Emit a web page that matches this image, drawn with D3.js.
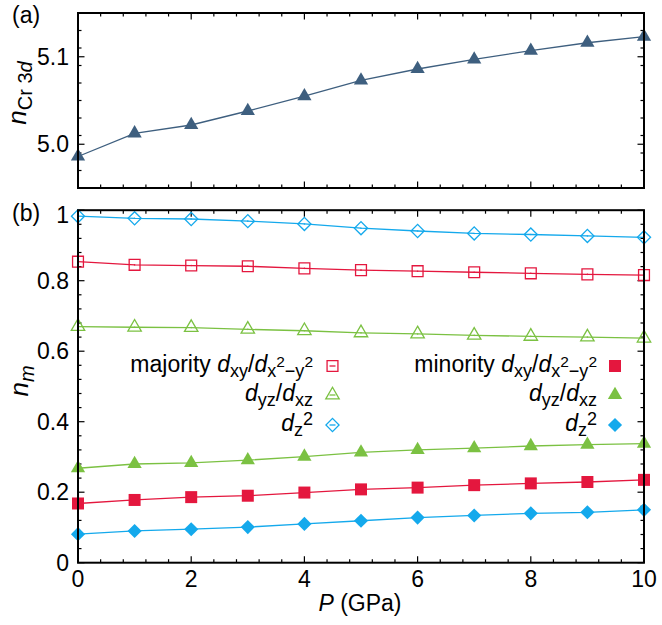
<!DOCTYPE html>
<html>
<head>
<meta charset="utf-8">
<script src="https://cdn.jsdelivr.net/npm/d3@7"></script>
<style>
  body { margin: 0; background: #fff; }
  text { font-family: "Liberation Sans", Arial, sans-serif; fill: #000; }
</style>
</head>
<body>
<div id="graph"></div>
<script>
// pressure points (GPa)
const pressure = [0, 1, 2, 3, 4, 5, 6, 7, 8, 9, 10];

// (a) total Cr 3d occupation
const nCr3d = [4.986, 5.0125, 5.022, 5.038, 5.055, 5.073, 5.086, 5.097, 5.107, 5.116, 5.123];

// (b) orbital occupations
const majXY = [0.854, 0.845, 0.843, 0.841, 0.835, 0.830, 0.827, 0.824, 0.821, 0.818, 0.816];
const majYZ = [0.670, 0.668, 0.667, 0.662, 0.658, 0.652, 0.649, 0.645, 0.642, 0.640, 0.637];
const majZ2 = [0.983, 0.977, 0.975, 0.969, 0.961, 0.949, 0.941, 0.934, 0.931, 0.927, 0.923];
const minXY = [0.168, 0.178, 0.186, 0.190, 0.199, 0.208, 0.213, 0.220, 0.225, 0.229, 0.235];
const minYZ = [0.268, 0.280, 0.283, 0.291, 0.301, 0.313, 0.320, 0.325, 0.331, 0.335, 0.338];
const minZ2 = [0.081, 0.090, 0.095, 0.101, 0.110, 0.119, 0.128, 0.134, 0.140, 0.143, 0.150];

// tick values
const xTicks = [0, 2, 4, 6, 8, 10];
const yTicksA = [5.0, 5.1];
const yTicksB = [0, 0.2, 0.4, 0.6, 0.8, 1];

const W = 662, H = 625;
const left = 78, right = 644;
const FS = 23;
const slate = "#3e5f7f", red = "#e4173e", green = "#7bc142", cyan = "#14a9ec";

const svg = d3.select("#graph").append("svg")
  .attr("width", W).attr("height", H);

const x = d3.scaleLinear().domain([0, 10]).range([left, right]);
const yA = d3.scaleLinear().domain([4.95, 5.15]).range([188, 13]);
const yB = d3.scaleLinear().domain([0, 1]).range([562.7, 210.2]);

// marker generators
const tri = d3.symbol().type(d3.symbolTriangle);
const sq = d3.symbol().type(d3.symbolSquare);

function marker(g, shape, color, filled, cx, cy, legend) {
  let d;
  if (shape === "tri") d = tri.size(filled ? 88 : 78)();
  else if (shape === "sq") d = sq.size(filled ? 144 : 118)();
  else d = sq.size(filled ? 100 : 86)();
  const rot = shape === "dia" ? " rotate(45)" : "";
  const p = g.append("path").attr("d", d).attr("transform", `translate(${cx},${cy})${rot}`);
  if (filled) p.attr("fill", color).attr("stroke", "none");
  else p.attr("fill", "none").attr("stroke", color).attr("stroke-width", 1.3);
  if (!filled) {
    if (legend) {
      g.append("line").attr("x1", cx - 3).attr("x2", cx + 3).attr("y1", cy).attr("y2", cy)
        .attr("stroke", color).attr("stroke-width", 1.3);
    } else {
      g.append("circle").attr("cx", cx).attr("cy", cy).attr("r", 0.8).attr("fill", color);
    }
  }
}

function series(y, values, shape, color, filled) {
  const g = svg.append("g");
  const line = d3.line().x((d, i) => x(pressure[i])).y(d => y(d));
  g.append("path").datum(values).attr("d", line)
    .attr("fill", "none").attr("stroke", color).attr("stroke-width", 1.3);
  values.forEach((v, i) => marker(g, shape, color, filled, x(pressure[i]), y(v)));
}

// rich text helper: segments with italic flag, size and baseline offset
function rich(sel, segs) {
  let prev = 0;
  segs.forEach(s => {
    const off = s.off || 0;
    sel.append("tspan")
      .attr("dy", off - prev)
      .attr("font-style", s.it ? "italic" : "normal")
      .attr("font-size", s.size || FS)
      .text(s.t);
    prev = off;
  });
}

function panelAxes(y, top, bottom, yMajor, yMinorStep, fmt, xLabels) {
  const yMinor = d3.range(y.domain()[0], y.domain()[1] + 1e-9, yMinorStep)
    .filter(v => !yMajor.some(m => Math.abs(m - v) < 1e-6));
  const xMinor = d3.range(0, 10.0001, 0.4).filter(v => !xTicks.some(m => Math.abs(m - v) < 1e-6));

  const g = svg.append("g").attr("stroke", "#000").attr("stroke-width", 1.2);
  xMinor.forEach(v => {
    g.append("line").attr("x1", x(v)).attr("x2", x(v)).attr("y1", bottom).attr("y2", bottom - 3.5);
    g.append("line").attr("x1", x(v)).attr("x2", x(v)).attr("y1", top).attr("y2", top + 3.5);
  });
  xTicks.forEach(v => {
    g.append("line").attr("x1", x(v)).attr("x2", x(v)).attr("y1", bottom).attr("y2", bottom - 6.5);
    g.append("line").attr("x1", x(v)).attr("x2", x(v)).attr("y1", top).attr("y2", top + 6.5);
  });
  yMinor.forEach(v => {
    g.append("line").attr("x1", left).attr("x2", left + 3.5).attr("y1", y(v)).attr("y2", y(v));
    g.append("line").attr("x1", right).attr("x2", right - 3.5).attr("y1", y(v)).attr("y2", y(v));
  });
  yMajor.forEach(v => {
    g.append("line").attr("x1", left).attr("x2", left + 6.5).attr("y1", y(v)).attr("y2", y(v));
    g.append("line").attr("x1", right).attr("x2", right - 6.5).attr("y1", y(v)).attr("y2", y(v));
  });

  const lab = svg.append("g").attr("font-size", FS);
  yMajor.forEach(v => {
    lab.append("text").attr("x", 69).attr("y", y(v) + 8 + (v === 1 ? 5 : 0))
      .attr("text-anchor", "end").text(fmt(v));
  });
  if (xLabels) {
    xTicks.forEach(v => {
      lab.append("text").attr("x", x(v)).attr("y", 587).attr("text-anchor", "middle").text(v);
    });
  }
}

function frame(top, bottom) {
  svg.append("rect").attr("x", left).attr("y", top)
    .attr("width", right - left).attr("height", bottom - top)
    .attr("fill", "none").attr("stroke", "#000").attr("stroke-width", 2);
}

// ---- panel (a)
panelAxes(yA, 13, 188, yTicksA, 0.02, d3.format(".1f"), false);
series(yA, nCr3d, "tri", slate, true);
frame(13, 188);

// ---- panel (b)
panelAxes(yB, 210.2, 562.7, yTicksB, 0.04, v => (v === 0 || v === 1) ? String(v) : d3.format(".1f")(v), true);
series(yB, majZ2, "dia", cyan, false);
series(yB, majXY, "sq", red, false);
series(yB, majYZ, "tri", green, false);
series(yB, minYZ, "tri", green, true);
series(yB, minXY, "sq", red, true);
series(yB, minZ2, "dia", cyan, true);
frame(210.2, 562.7);

// ---- legend
const legendRows = [371.5, 401, 430.5];
const SUB = 18, SUP = 15.5;
const dxy = [{t: "d", it: true}, {t: "xy", size: SUB, off: 5}, {t: "/"}, {t: "d", it: true},
  {t: "x", size: SUB, off: 5}, {t: "2", size: SUP, off: -5}, {t: "\u2212y", size: SUB, off: 5}, {t: "2", size: SUP, off: -5}];
const dyz = [{t: "d", it: true}, {t: "yz", size: SUB, off: 5}, {t: "/"}, {t: "d", it: true}, {t: "xz", size: SUB, off: 5}];
const dz2 = [{t: "d", it: true}, {t: "z", size: SUB, off: 5}, {t: "2", size: SUB, off: -6}];

const leg = svg.append("g");
rich(leg.append("text").attr("x", 313).attr("y", legendRows[0]).attr("text-anchor", "end"),
  [{t: "majority "}].concat(dxy));
rich(leg.append("text").attr("x", 313).attr("y", legendRows[1]).attr("text-anchor", "end"), dyz);
rich(leg.append("text").attr("x", 313).attr("y", legendRows[2]).attr("text-anchor", "end"), dz2);
rich(leg.append("text").attr("x", 597).attr("y", legendRows[0]).attr("text-anchor", "end"),
  [{t: "minority "}].concat(dxy));
rich(leg.append("text").attr("x", 597).attr("y", legendRows[1]).attr("text-anchor", "end"), dyz);
rich(leg.append("text").attr("x", 597).attr("y", legendRows[2]).attr("text-anchor", "end"), dz2);

marker(leg, "sq", red, false, 332.5, 366, true);
marker(leg, "tri", green, false, 332.5, 395, true);
marker(leg, "dia", cyan, false, 332.5, 425, true);
marker(leg, "sq", red, true, 615, 366);
marker(leg, "tri", green, true, 615, 395);
marker(leg, "dia", cyan, true, 615, 425);

// ---- labels
svg.append("text").attr("x", 12).attr("y", 23).attr("font-size", FS).text("(a)");
svg.append("text").attr("x", 12).attr("y", 221).attr("font-size", FS).text("(b)");

rich(svg.append("text").attr("transform", "translate(26,93) rotate(-90)").attr("text-anchor", "middle"),
  [{t: "n", it: true, size: 26}, {t: "Cr 3", size: 20, off: 6}, {t: "d", it: true, size: 20, off: 6}]);
rich(svg.append("text").attr("transform", "translate(28,381) rotate(-90)").attr("text-anchor", "middle"),
  [{t: "n", it: true, size: 26}, {t: "m", it: true, size: 20, off: 6}]);
rich(svg.append("text").attr("x", 360).attr("y", 611).attr("text-anchor", "middle"),
  [{t: "P", it: true}, {t: " (GPa)"}]);
</script>
</body>
</html>
